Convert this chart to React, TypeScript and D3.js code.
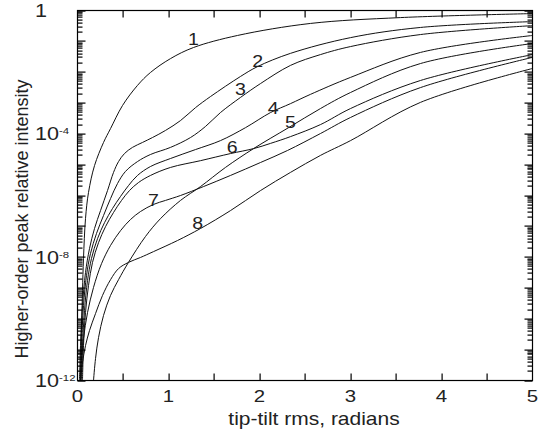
import React, { useRef, useEffect } from "react"
import * as d3 from "d3"

// x = tip-tilt rms (radians), e = log10 of relative intensity
const curve1X = [0.033, 0.044, 0.055, 0.066, 0.088, 0.121, 0.187, 0.286, 0.363, 0.495, 0.659, 0.802, 1.022, 1.275, 1.758, 2.56, 3.549, 5.0]
const curve1E = [-12, -10.38, -9.08, -8.04, -6.75, -5.9, -5.03, -4.28, -3.83, -3.08, -2.43, -2.01, -1.56, -1.2, -0.81, -0.42, -0.23, -0.1]

const curve2X = [0.022, 0.033, 0.055, 0.088, 0.132, 0.187, 0.253, 0.33, 0.396, 0.451, 0.516, 0.604, 0.714, 0.824, 0.967, 1.132, 1.297, 1.462, 1.791, 1.978, 2.341, 3.0, 3.769, 5.0]
const curve2E = [-12, -10.87, -9.57, -8.5, -7.72, -7.07, -6.49, -5.84, -5.25, -4.9, -4.64, -4.44, -4.28, -4.12, -3.89, -3.57, -3.15, -2.79, -2.14, -1.82, -1.39, -0.88, -0.55, -0.36]

const curve3X = [0.033, 0.044, 0.066, 0.099, 0.143, 0.209, 0.286, 0.363, 0.44, 0.527, 0.659, 0.802, 1.022, 1.242, 1.407, 1.571, 1.791, 2.011, 2.341, 2.67, 3.0, 3.769, 5.0]
const curve3E = [-12, -10.87, -9.57, -8.6, -7.88, -7.23, -6.65, -6.1, -5.61, -5.22, -4.9, -4.67, -4.44, -4.12, -3.76, -3.31, -2.82, -2.37, -1.78, -1.43, -1.17, -0.78, -0.49]

const curve4X = [0.044, 0.055, 0.077, 0.11, 0.154, 0.22, 0.297, 0.385, 0.473, 0.56, 0.659, 0.802, 1.022, 1.297, 1.571, 1.846, 2.121, 2.341, 2.56, 3.0, 3.769, 5.0]
const curve4E = [-12, -10.87, -9.73, -8.76, -8.04, -7.4, -6.88, -6.42, -6.03, -5.68, -5.35, -5.06, -4.8, -4.51, -4.22, -3.8, -3.31, -3.02, -2.72, -2.17, -1.36, -0.81]

const curve5X = [0.176, 0.198, 0.231, 0.286, 0.363, 0.451, 0.56, 0.747, 0.912, 1.132, 1.352, 1.626, 1.934, 2.319, 2.67, 3.0, 3.769, 5.0]
const curve5E = [-12, -11.29, -10.61, -9.89, -9.24, -8.73, -8.17, -7.33, -6.75, -6.16, -5.71, -5.09, -4.48, -3.8, -3.18, -2.66, -1.72, -1.07]

const curve6X = [0.055, 0.066, 0.088, 0.121, 0.165, 0.231, 0.308, 0.396, 0.484, 0.571, 0.67, 0.802, 1.022, 1.352, 1.681, 1.934, 2.121, 2.341, 2.67, 3.0, 3.769, 5.0]
const curve6E = [-12, -10.87, -9.8, -8.92, -8.17, -7.53, -7.01, -6.55, -6.16, -5.84, -5.58, -5.35, -5.09, -4.87, -4.64, -4.48, -4.31, -4.09, -3.7, -3.18, -2.27, -1.43]

const curve7X = [0.033, 0.044, 0.066, 0.11, 0.176, 0.264, 0.363, 0.473, 0.582, 0.692, 0.835, 0.967, 1.132, 1.385, 1.681, 2.011, 2.308, 2.67, 3.0, 3.769, 5.0]
const curve7E = [-12, -11.35, -10.64, -9.8, -8.98, -8.21, -7.62, -7.14, -6.78, -6.52, -6.29, -6.16, -6.0, -5.71, -5.35, -4.93, -4.54, -3.99, -3.47, -2.5, -1.52]

const curve8X = [0.033, 0.055, 0.088, 0.132, 0.198, 0.275, 0.363, 0.451, 0.56, 0.692, 0.835, 1.099, 1.352, 1.681, 2.011, 2.341, 2.67, 3.0, 3.769, 5.0]
const curve8E = [-12, -11.42, -10.87, -10.38, -9.83, -9.24, -8.73, -8.37, -8.17, -8.01, -7.82, -7.46, -7.07, -6.49, -5.84, -5.25, -4.7, -4.22, -2.98, -1.88]

const curveIds = ["1", "2", "3", "4", "5", "6", "7", "8"]
const curveXs = [curve1X, curve2X, curve3X, curve4X, curve5X, curve6X, curve7X, curve8X]
const curveEs = [curve1E, curve2E, curve3E, curve4E, curve5E, curve6E, curve7E, curve8E]

// where the curve numbers sit (centre of the digit)
const labelX = [1.275, 1.98, 1.79, 2.15, 2.34, 1.7, 0.835, 1.32]
const labelE = [-0.91, -1.65, -2.53, -3.15, -3.6, -4.44, -6.13, -6.88]

const xTicks = [0, 1, 2, 3, 4, 5]
const xMinorTicks = [0.5, 1, 1.5, 2, 2.5, 3, 3.5, 4, 4.5]
const yTickExps = [0, -4, -8, -12]
const yMinorMult = [2, 3, 4, 5, 6, 7, 8, 9]

const xTitle = "tip-tilt rms, radians"
const yTitle = "Higher-order peak relative intensity"

export default function App() {
  const svgRef = useRef<SVGSVGElement>(null)

  useEffect(() => {
    const svg = d3.select(svgRef.current)
    svg.selectAll("*").remove()

    const left = 77.5, right = 532.5, top = 10.5, bottom = 380.5
    const font = "'Liberation Sans', Arial, sans-serif"
    const stretch = 1.2

    const x = d3.scaleLinear().domain([0, 5]).range([left, right])
    const y = d3.scaleLog().domain([1e-12, 1]).range([bottom, top])

    svg.append("defs").append("clipPath").attr("id", "plotclip")
      .append("rect").attr("x", left).attr("y", top)
      .attr("width", right - left).attr("height", bottom - top)

    // curves
    const myLine = d3.line<[number, number]>()
      .x(d => x(d[0]))
      .y(d => y(Math.pow(10, d[1])))
      .curve(d3.curveCatmullRom.alpha(0.5))

    const series = curveIds.map((id, i) => ({
      id,
      pts: curveXs[i].map((v, j) => [v, curveEs[i][j]] as [number, number])
    }))

    svg.append("g").attr("clip-path", "url(#plotclip)")
      .selectAll("path")
      .data(series)
      .join("path")
      .attr("d", d => myLine(d.pts))
      .attr("fill", "none")
      .attr("stroke", "#111")
      .attr("stroke-width", 1)

    // ticks drawn as thin filled rects, inward
    const decades = d3.range(-12, 1)
    const minorVals: number[] = []
    decades.forEach(d => {
      if (d < 0) yMinorMult.forEach(k => minorVals.push(k * Math.pow(10, d)))
    })

    const tickG = svg.append("g").attr("fill", "#000")
    const yTick = (v: number, len: number) => {
      const py = Math.round(y(v)) - 0.5
      tickG.append("rect").attr("x", left).attr("y", py).attr("width", len).attr("height", 1.2)
      tickG.append("rect").attr("x", right - len).attr("y", py).attr("width", len).attr("height", 1.2)
    }
    decades.forEach(d => yTick(Math.pow(10, d), 8))
    minorVals.forEach(v => yTick(v, 5))

    xMinorTicks.forEach(t => {
      const px = Math.round(x(t)) - 0.5
      tickG.append("rect").attr("x", px).attr("y", bottom - 7).attr("width", 1.2).attr("height", 7)
      tickG.append("rect").attr("x", px).attr("y", top).attr("width", 1.2).attr("height", 7)
    })

    // frame
    svg.append("rect")
      .attr("x", left).attr("y", top)
      .attr("width", right - left).attr("height", bottom - top)
      .attr("fill", "none").attr("stroke", "#000").attr("stroke-width", 1.2)

    // x tick labels
    xTicks.forEach(t => {
      svg.append("text")
        .attr("transform", `translate(${x(t)},402) scale(${stretch},1)`)
        .attr("text-anchor", "middle")
        .attr("font-family", font).attr("font-size", 17)
        .attr("fill", "#222")
        .text(String(t))
    })

    // y tick labels
    yTickExps.forEach(e => {
      const t = svg.append("text")
        .attr("transform", `translate(35,${y(Math.pow(10, e)) + 6.5}) scale(${stretch},1)`)
        .attr("font-family", font).attr("font-size", 18)
        .attr("fill", "#222")
      if (e === 0) {
        t.text("1")
      } else {
        t.append("tspan").text("10")
        t.append("tspan").attr("dy", -6).attr("font-size", 9.5).text(String(e))
      }
    })

    // curve numbers
    curveIds.forEach((id, i) => {
      svg.append("text")
        .attr("transform", `translate(${x(labelX[i])},${y(Math.pow(10, labelE[i])) + 6}) scale(1.15,1)`)
        .attr("text-anchor", "middle")
        .attr("font-family", font).attr("font-size", 17)
        .attr("fill", "#222")
        .text(id)
    })

    // axis titles
    svg.append("text")
      .attr("transform", `translate(314,425) scale(${stretch},1)`)
      .attr("text-anchor", "middle")
      .attr("font-family", font).attr("font-size", 17.5)
      .attr("fill", "#222")
      .text(xTitle)

    svg.append("text")
      .attr("transform", "translate(28,219) rotate(-90)")
      .attr("text-anchor", "middle")
      .attr("font-family", font).attr("font-size", 18)
      .attr("fill", "#222")
      .text(yTitle)
  }, [])

  return (
    <svg ref={svgRef} width={548} height={436}
      style={{ position: "absolute", left: 0, top: 0, background: "#fff" }} />
  )
}
